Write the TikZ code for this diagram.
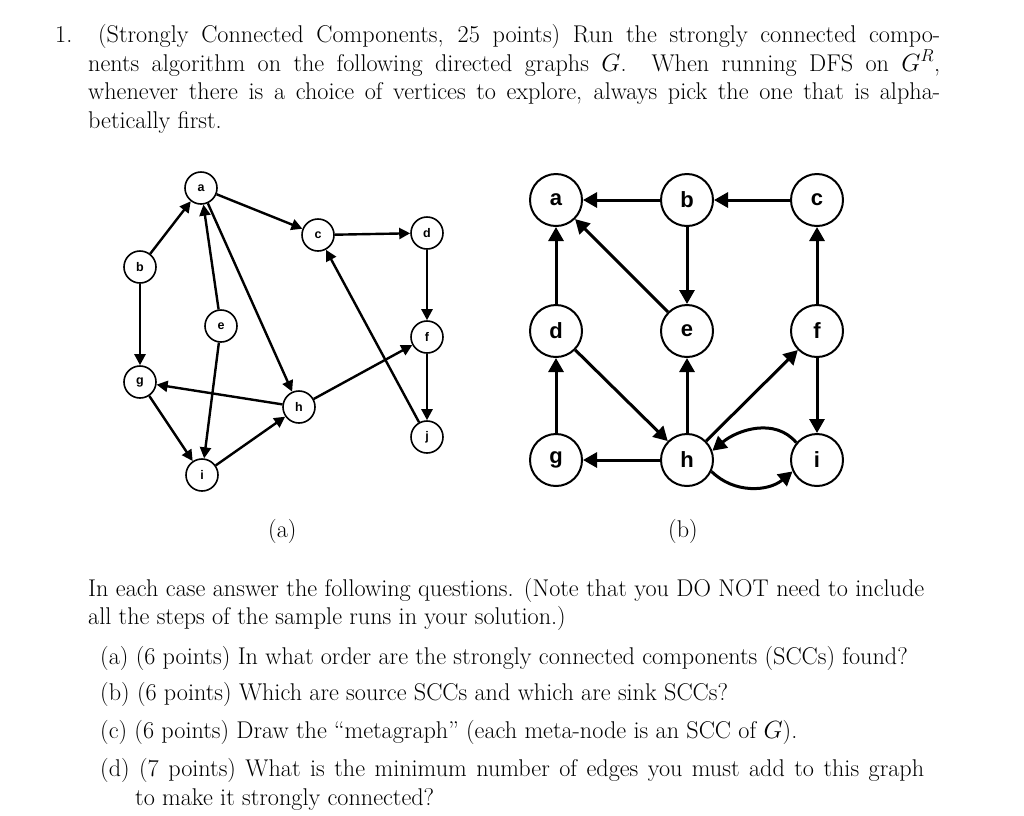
\documentclass[tikz,border=0pt]{standalone}
\usepackage{fontspec}
\newfontfamily\nodefont{Liberation Sans}
\usetikzlibrary{arrows.meta}
\begin{document}
\begin{tikzpicture}[x=1pt,y=1pt,
  txt/.style={anchor=base west,inner sep=0pt,font=\fontsize{24.2}{29}\selectfont},
  sv/.style={circle,draw,line width=1.6pt,minimum size=32pt,inner sep=0pt,font=\nodefont\bfseries\fontsize{12.5}{14}\selectfont},
  bv/.style={circle,draw,line width=2pt,minimum size=52pt,inner sep=0pt,font=\nodefont\bfseries\fontsize{22}{24}\selectfont},
  sa/.style={line width=2.4pt,-{Triangle[length=11pt,width=11pt]}},
  ba/.style={line width=3pt,-{Triangle[length=14pt,width=15pt]}}]
\useasboundingbox (0,0) rectangle (1024,-815);
\node[txt] (t1) at (55,-42) {\makebox[885pt][s]{1. (Strongly Connected Components, 25 points) Run the strongly connected compo-}};
\node[txt] (t2) at (88,-71) {\makebox[852pt][s]{nents algorithm on the following directed graphs $G$. When running DFS on $G^R$,}};
\node[txt] (t3) at (88,-99) {\makebox[852pt][s]{whenever there is a choice of vertices to explore, always pick the one that is alpha-}};
\node[txt] (t4) at (88,-128) {betically first.};
% graph (a)
\node[sv] (a) at (201,-188) {a};
\node[sv] (b) at (140,-267) {b};
\node[sv] (c) at (318,-235) {c};
\node[sv] (d) at (427,-233) {d};
\node[sv] (e) at (221,-326) {e};
\node[sv] (f) at (427,-337) {f};
\node[sv] (g) at (140,-382) {g};
\node[sv] (h) at (299,-407) {h};
\node[sv] (i) at (202,-475) {i};
\node[sv] (j) at (427,-437) {j};
\draw[sa] (b)--(a); \draw[sa] (a)--(c); \draw[sa] (a)--(h); \draw[sa] (e)--(a);
\draw[sa] (e)--(i); \draw[sa] (b)--(g); \draw[sa] (c)--(d); \draw[sa] (d)--(f);
\draw[sa] (f)--(j); \draw[sa] (j)--(c); \draw[sa] (h)--(f); \draw[sa] (h)--(g);
\draw[sa] (g)--(i); \draw[sa] (i)--(h);
\node[txt] (la) at (268,-537) {(a)};
% graph (b)
\node[bv] (A) at (556,-200) {a};
\node[bv] (B) at (687,-200) {b};
\node[bv] (C) at (817,-200) {c};
\node[bv] (D) at (556,-331) {d};
\node[bv] (E) at (687,-331) {e};
\node[bv] (F) at (817,-331) {f};
\node[bv] (G) at (556,-460) {g};
\node[bv] (H) at (687,-460) {h};
\node[bv] (I) at (817,-460) {i};
\draw[ba] (B)--(A); \draw[ba] (C)--(B); \draw[ba] (D)--(A); \draw[ba] (E)--(A);
\draw[ba] (B)--(E); \draw[ba] (F)--(C); \draw[ba] (G)--(D); \draw[ba] (D)--(H);
\draw[ba] (H)--(E); \draw[ba] (H)--(F); \draw[ba] (F)--(I); \draw[ba] (H)--(G);
\draw[ba] (I.140) to[out=130,in=40] (H.20);
\draw[ba] (H.-25) to[out=-45,in=-140] (I.-155);
\node[txt] (lb) at (668,-537) {(b)};
% questions
\node[txt] (q1) at (88,-596) {\makebox[836pt][s]{In each case answer the following questions. (Note that you DO NOT need to include}};
\node[txt] (q2) at (88,-624) {all the steps of the sample runs in your solution.)};
\node[txt] (qa) at (100,-664) {(a)\ (6 points)\ In what order are the strongly connected components (SCCs) found?};
\node[txt] (qb) at (100,-700) {(b)\ (6 points)\ Which are source SCCs and which are sink SCCs?};
\node[txt] (qc) at (100,-738) {(c)\ (6 points)\ Draw the ``metagraph'' (each meta-node is an SCC of $G$).};
\node[txt] (qd) at (100,-776) {\makebox[824pt][s]{(d)\ (7 points)\ What is the minimum number of edges you must add to this graph}};
\node[txt] (qe) at (135,-805) {to make it strongly connected?};
\end{tikzpicture}
\end{document}
